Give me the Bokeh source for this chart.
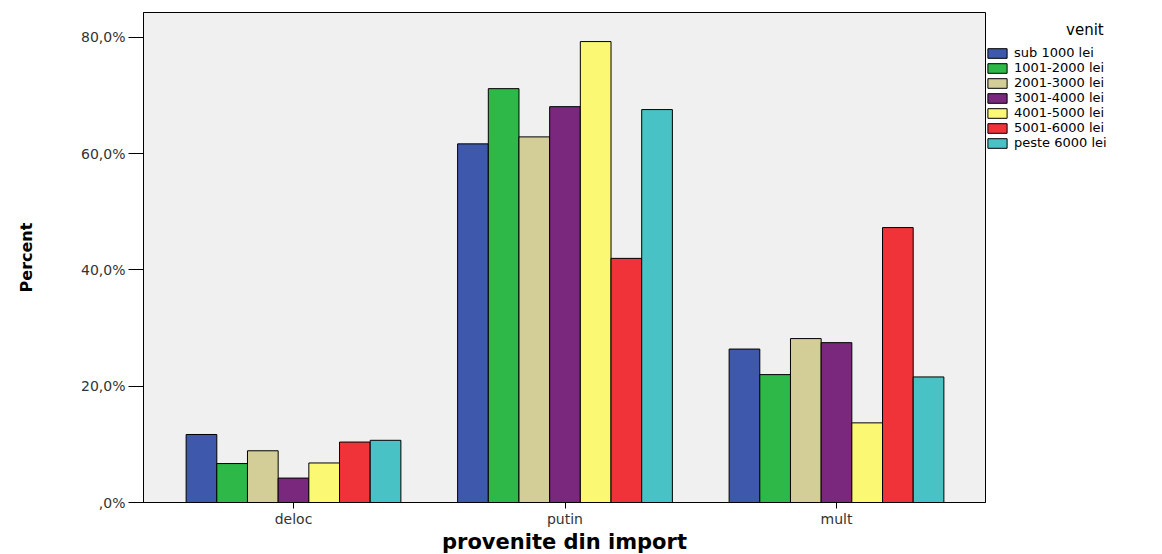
from bokeh.plotting import figure
from bokeh.models import (ColumnDataSource, Range1d, FixedTicker, Legend, LegendItem)
from bokeh.transform import dodge
from bokeh.embed import file_html
from bokeh.resources import INLINE

categories = ["deloc", "putin", "mult"]
series = ["sub 1000 lei", "1001-2000 lei", "2001-3000 lei", "3001-4000 lei",
          "4001-5000 lei", "5001-6000 lei", "peste 6000 lei"]
colors = ["#3E58AC", "#2EB848", "#D3CE97", "#79287D", "#FBF873", "#EF3338", "#48C2C5"]
legend_title = "venit"

sub_1000 = [11.7, 61.7, 26.4]
v_1001_2000 = [6.7, 71.2, 22.0]
v_2001_3000 = [8.9, 62.9, 28.2]
v_3001_4000 = [4.2, 68.1, 27.5]
v_4001_5000 = [6.8, 79.3, 13.7]
v_5001_6000 = [10.4, 42.0, 47.3]
peste_6000 = [10.7, 67.6, 21.6]
values = [sub_1000, v_1001_2000, v_2001_3000, v_3001_4000, v_4001_5000, v_5001_6000, peste_6000]

y_ticks = [0, 20, 40, 60, 80]
y_tick_labels = [",0%", "20,0%", "40,0%", "60,0%", "80,0%"]

data = {"x": list(range(len(categories)))}
for i, v in enumerate(values):
    data["s%d" % i] = v
src = ColumnDataSource(data)

p = figure(frame_width=842, frame_height=490, output_backend="svg", toolbar_location=None,
           x_range=Range1d(-0.5525, 2.5488), y_range=Range1d(0, 84.3),
           min_border_left=143, min_border_right=175, min_border_top=12, min_border_bottom=50)

p.background_fill_color = "#F0F0F0"
p.border_fill_color = "white"
p.outline_line_color = "black"
p.outline_line_width = 1
p.grid.visible = False

bw = 0.113
items = []
for i, name in enumerate(series):
    r = p.vbar(x=dodge("x", (i - 3) * bw, range=p.x_range), top="s%d" % i, width=bw,
               source=src, fill_color=colors[i], line_color="black", line_width=1)
    items.append(LegendItem(label=name, renderers=[r]))

legend = Legend(items=items, location=(0, 352), border_line_color=None,
                background_fill_alpha=0, padding=5, spacing=0, margin=0,
                glyph_width=24, glyph_height=12, label_height=12, label_standoff=5,
                label_text_font="DejaVu Sans", label_text_font_size="13px",
                label_text_color="black",
                title="\u00a0" * 17 + legend_title, title_text_font="DejaVu Sans",
                title_text_font_size="15px", title_text_font_style="normal",
                title_text_color="black", title_standoff=6)
p.add_layout(legend, "right")

# y axis
ya = p.yaxis[0]
ya.ticker = FixedTicker(ticks=y_ticks)
ya.major_label_overrides = {t: l for t, l in zip(y_ticks, y_tick_labels)}
ya.major_tick_out = 15
ya.major_tick_in = 0
ya.minor_tick_out = 0
ya.minor_tick_in = 0
ya.axis_line_color = "black"
ya.major_tick_line_color = "black"
ya.major_label_text_font = "DejaVu Sans"
ya.major_label_text_font_size = "14px"
ya.major_label_text_color = "#333333"
ya.major_label_standoff = 3
ya.axis_label = "Percent"
ya.axis_label_text_font = "DejaVu Sans"
ya.axis_label_text_font_style = "bold"
ya.axis_label_text_font_size = "16px"
ya.axis_label_text_color = "black"
ya.axis_label_standoff = 42

# x axis
xa = p.xaxis[0]
xa.ticker = FixedTicker(ticks=list(range(len(categories))))
xa.major_label_overrides = {i: c for i, c in enumerate(categories)}
xa.major_tick_out = 6
xa.major_tick_in = 0
xa.minor_tick_out = 0
xa.minor_tick_in = 0
xa.axis_line_color = "black"
xa.major_tick_line_color = "black"
xa.major_label_text_font = "DejaVu Sans"
xa.major_label_text_font_size = "14px"
xa.major_label_text_color = "#333333"
xa.major_label_standoff = 2
xa.axis_label = "provenite din import"
xa.axis_label_text_font = "DejaVu Sans"
xa.axis_label_text_font_style = "bold"
xa.axis_label_text_font_size = "21px"
xa.axis_label_text_color = "black"
xa.axis_label_standoff = 0

open("out.html", "w").write(file_html(p, INLINE))
